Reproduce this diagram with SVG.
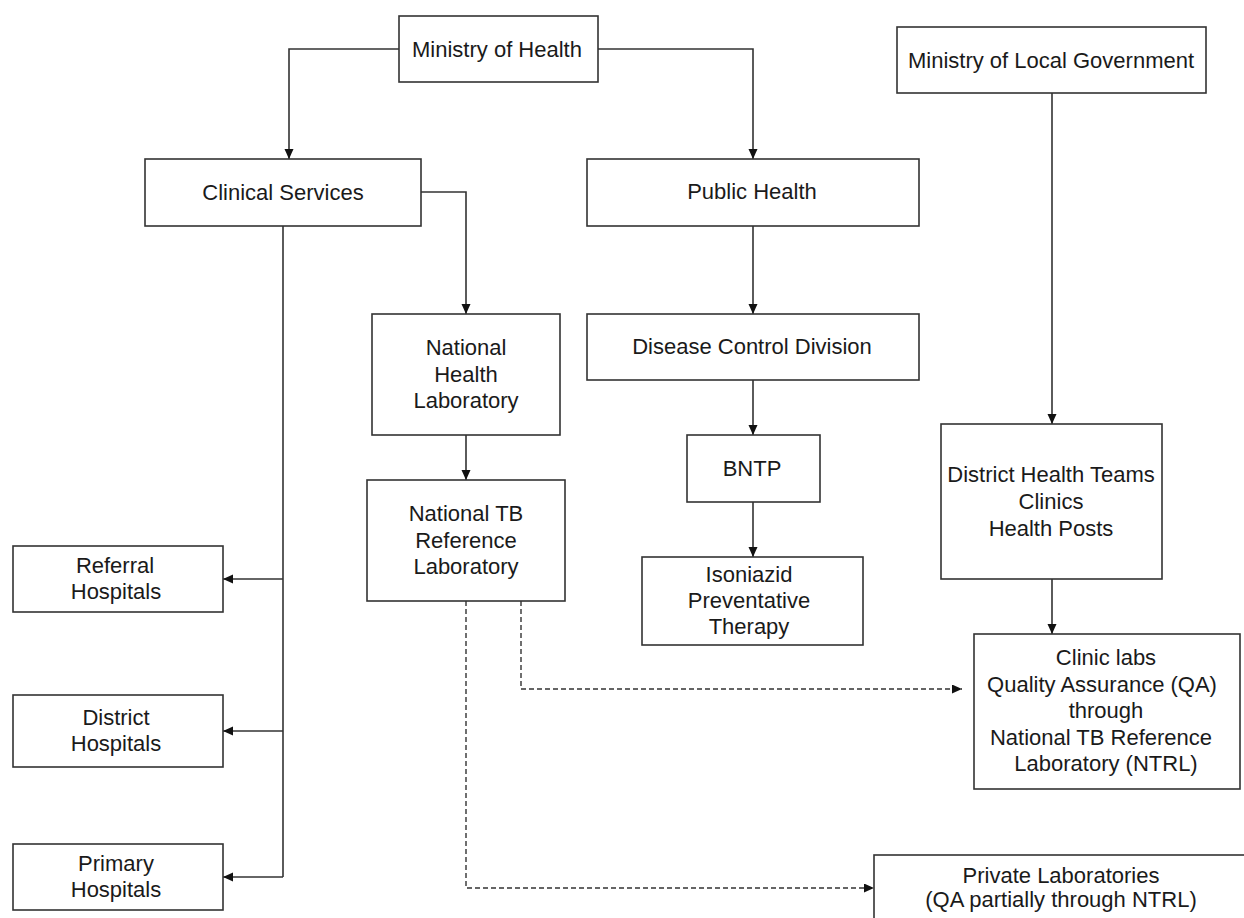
<svg xmlns="http://www.w3.org/2000/svg" width="1244" height="918" viewBox="0 0 1244 918">
<style>
.box{fill:#fff;stroke:#333;stroke-width:1.6}
.t{font-family:"Liberation Sans",Arial,sans-serif;font-size:22px;fill:#1a1a1a;text-anchor:middle}
.c{fill:none;stroke:#333;stroke-width:1.6}
.d{fill:none;stroke:#333;stroke-width:1.4;stroke-dasharray:5 3}
</style>
<defs>
<marker id="ah" markerUnits="userSpaceOnUse" markerWidth="10" markerHeight="10" refX="10" refY="4.5" orient="auto">
<path d="M0,0 L10,4.5 L0,9 z" fill="#111"/>
</marker>
</defs>
<rect width="1244" height="918" fill="#fff"/>
<g id="connectors">
<path class="c" d="M399,49 H289 V159" marker-end="url(#ah)"/>
<path class="c" d="M598,49 H753 V159" marker-end="url(#ah)"/>
<path class="c" d="M421,192 H466 V314" marker-end="url(#ah)"/>
<path class="c" d="M283,226 V877"/>
<path class="c" d="M283,579 H223" marker-end="url(#ah)"/>
<path class="c" d="M283,731 H223" marker-end="url(#ah)"/>
<path class="c" d="M283,877 H223" marker-end="url(#ah)"/>
<path class="c" d="M466,435 V480" marker-end="url(#ah)"/>
<path class="c" d="M753,226 V314" marker-end="url(#ah)"/>
<path class="c" d="M753,380 V435" marker-end="url(#ah)"/>
<path class="c" d="M753,502 V557" marker-end="url(#ah)"/>
<path class="c" d="M1052,93 V424" marker-end="url(#ah)"/>
<path class="c" d="M1052,579 V634" marker-end="url(#ah)"/>
<path class="d" d="M521,601 V689 H962" marker-end="url(#ah)"/>
<path class="d" d="M466,601 V888 H874" marker-end="url(#ah)"/>
</g>
<g id="moh"><rect class="box" x="399" y="16" width="199" height="66"/><text class="t" x="497" y="57">Ministry of Health</text></g>
<g id="molg"><rect class="box" x="897" y="27" width="309" height="66"/><text class="t" x="1051" y="68">Ministry of Local Government</text></g>
<g id="clinical"><rect class="box" x="145" y="159" width="276" height="67"/><text class="t" x="283" y="200">Clinical Services</text></g>
<g id="public"><rect class="box" x="587" y="159" width="332" height="67"/><text class="t" x="752" y="199">Public Health</text></g>
<g id="nhl"><rect class="box" x="372" y="314" width="188" height="121"/>
<text class="t" x="466" y="355">National</text><text class="t" x="466" y="381.5">Health</text><text class="t" x="466" y="407.5">Laboratory</text></g>
<g id="dcd"><rect class="box" x="587" y="314" width="332" height="66"/><text class="t" x="752" y="354">Disease Control Division</text></g>
<g id="bntp"><rect class="box" x="687" y="435" width="133" height="67"/><text class="t" x="752" y="476">BNTP</text></g>
<g id="ntrl"><rect class="box" x="367" y="480" width="198" height="121"/>
<text class="t" x="466" y="520.5">National TB</text><text class="t" x="466" y="547.5">Reference</text><text class="t" x="466" y="574">Laboratory</text></g>
<g id="ipt"><rect class="box" x="642" y="557" width="221" height="88"/>
<text class="t" x="749" y="582">Isoniazid</text><text class="t" x="749" y="608">Preventative</text><text class="t" x="749" y="634">Therapy</text></g>
<g id="dht"><rect class="box" x="941" y="424" width="221" height="155"/>
<text class="t" x="1051" y="481.5">District Health Teams</text><text class="t" x="1051" y="508.5">Clinics</text><text class="t" x="1051" y="535.5">Health Posts</text></g>
<g id="referral"><rect class="box" x="13" y="546" width="210" height="66"/>
<text class="t" x="115" y="572.5">Referral</text><text class="t" x="116" y="598.5">Hospitals</text></g>
<g id="district"><rect class="box" x="13" y="695" width="210" height="72"/>
<text class="t" x="116" y="725">District</text><text class="t" x="116" y="750.5">Hospitals</text></g>
<g id="primary"><rect class="box" x="13" y="844" width="210" height="66"/>
<text class="t" x="116" y="871">Primary</text><text class="t" x="116" y="896.5">Hospitals</text></g>
<g id="cliniclabs"><rect class="box" x="974" y="634" width="266" height="155"/>
<text class="t" x="1106" y="665">Clinic labs</text><text class="t" x="1102" y="691.5">Quality Assurance (QA)</text><text class="t" x="1106" y="718">through</text><text class="t" x="1101" y="745">National TB Reference</text><text class="t" x="1106" y="771"> Laboratory (NTRL)</text></g>
<g id="private"><rect class="box" x="874" y="855" width="380" height="80"/>
<text class="t" x="1061" y="882.5">Private Laboratories</text><text class="t" x="1061" y="907">(QA partially through NTRL)</text></g>
</svg>
